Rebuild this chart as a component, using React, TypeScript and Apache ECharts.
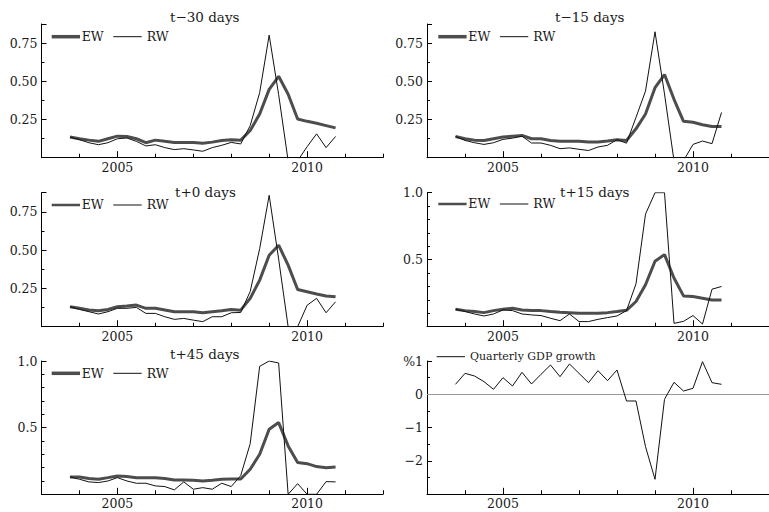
import React, { useEffect, useRef } from "react";
import * as echarts from "echarts";

// quarterly observation dates (decimal years)
const dates = [
  2003.75, 2004.0, 2004.25, 2004.5, 2004.75, 2005.0, 2005.25, 2005.5, 2005.75,
  2006.0, 2006.25, 2006.5, 2006.75, 2007.0, 2007.25, 2007.5, 2007.75, 2008.0,
  2008.25, 2008.5, 2008.75, 2009.0, 2009.25, 2009.5, 2009.75, 2010.0, 2010.25,
  2010.5, 2010.75,
];

const ewM30 = [0.135, 0.124, 0.115, 0.107, 0.124, 0.141, 0.139, 0.124, 0.098, 0.115, 0.107, 0.1, 0.1, 0.1, 0.094, 0.102, 0.113, 0.118, 0.115, 0.178, 0.286, 0.447, 0.533, 0.415, 0.253, 0.238, 0.225, 0.21, 0.195];
const rwM30 = [0.135, 0.118, 0.098, 0.085, 0.098, 0.124, 0.129, 0.107, 0.077, 0.085, 0.066, 0.053, 0.059, 0.051, 0.042, 0.066, 0.081, 0.1, 0.09, 0.21, 0.426, 0.802, 0.413, -0.02, -0.02, 0.072, 0.156, 0.066, 0.139];

const ewM15 = [0.139, 0.124, 0.115, 0.113, 0.124, 0.135, 0.141, 0.146, 0.124, 0.124, 0.113, 0.107, 0.107, 0.107, 0.102, 0.102, 0.109, 0.118, 0.113, 0.189, 0.286, 0.458, 0.544, 0.382, 0.238, 0.232, 0.216, 0.204, 0.204];
const rwM15 = [0.139, 0.113, 0.098, 0.087, 0.098, 0.12, 0.128, 0.141, 0.096, 0.096, 0.081, 0.059, 0.064, 0.055, 0.047, 0.07, 0.081, 0.118, 0.095, 0.264, 0.436, 0.824, 0.417, -0.02, -0.02, 0.087, 0.109, 0.092, 0.296];

const ewP0 = [0.13, 0.12, 0.109, 0.104, 0.113, 0.13, 0.135, 0.141, 0.12, 0.12, 0.109, 0.098, 0.098, 0.098, 0.091, 0.098, 0.104, 0.113, 0.108, 0.185, 0.304, 0.467, 0.532, 0.402, 0.243, 0.228, 0.213, 0.2, 0.195];
const rwP0 = [0.13, 0.113, 0.098, 0.083, 0.098, 0.12, 0.12, 0.126, 0.087, 0.087, 0.065, 0.048, 0.054, 0.043, 0.033, 0.065, 0.065, 0.091, 0.093, 0.23, 0.51, 0.858, 0.441, 0.0, 0.0, 0.14, 0.185, 0.091, 0.163];

const ewP15 = [0.13, 0.12, 0.113, 0.105, 0.12, 0.13, 0.138, 0.125, 0.12, 0.12, 0.113, 0.108, 0.105, 0.1, 0.1, 0.1, 0.105, 0.113, 0.122, 0.188, 0.313, 0.488, 0.538, 0.363, 0.23, 0.225, 0.213, 0.2, 0.2];
const rwP15 = [0.13, 0.113, 0.095, 0.08, 0.095, 0.125, 0.12, 0.095, 0.088, 0.083, 0.063, 0.045, 0.095, 0.038, 0.038, 0.055, 0.068, 0.08, 0.12, 0.32, 0.84, 1.0, 1.0, 0.025, 0.04, 0.083, 0.02, 0.28, 0.3];

const ewP45 = [0.13, 0.13, 0.118, 0.113, 0.125, 0.138, 0.133, 0.125, 0.125, 0.125, 0.118, 0.108, 0.108, 0.105, 0.1, 0.105, 0.113, 0.115, 0.115, 0.188, 0.3, 0.488, 0.538, 0.363, 0.238, 0.23, 0.208, 0.2, 0.205];
const rwP45 = [0.13, 0.113, 0.093, 0.088, 0.1, 0.125, 0.1, 0.083, 0.083, 0.063, 0.058, 0.033, 0.093, 0.038, 0.05, 0.038, 0.083, 0.058, 0.14, 0.38, 0.96, 1.0, 0.985, 0.0, 0.08, 0.0, 0.0, 0.095, 0.093];

const gdpGrowth = [0.3, 0.63, 0.55, 0.38, 0.15, 0.5, 0.25, 0.66, 0.31, 0.6, 0.88, 0.53, 0.91, 0.63, 0.35, 0.71, 0.41, 0.73, -0.2, -0.2, -1.57, -2.55, -0.15, 0.36, 0.1, 0.18, 0.98, 0.35, 0.3];

const xLabelYears = [2005, 2010];
const panelTitles = ["t−30 days", "t−15 days", "t+0 days", "t+15 days", "t+45 days"];
const ewSeries = [ewM30, ewM15, ewP0, ewP15, ewP45];
const rwSeries = [rwM30, rwM15, rwP0, rwP15, rwP45];
const seriesNames = ["EW", "RW"];
const gdpName = "Quarterly GDP growth";

const FAMILY = '"DejaVu Serif", "Liberation Serif", serif';
const TXT = "#1a1a1a";
const EW_COLOR = "#4d4d4d";
const RW_COLOR = "#111111";

// layout (pixels)
const COLS = [
  { left: 41.5, width: 341.5 },
  { left: 427, width: 343 },
];
const ROWS = [
  { top: 24, height: 133.7 },
  { top: 192.7, height: 134 },
  { top: 361, height: 133.3 },
];

const fmt25 = (v: number) => {
  const r = Math.round(v * 1000) / 1000;
  return r === 0.25 || r === 0.5 || r === 0.75 ? r.toFixed(2) : "";
};
const fmt5 = (v: number) => {
  const r = Math.round(v * 1000) / 1000;
  return r === 0.5 || r === 1 ? r.toFixed(1) : "";
};
const fmtGdp = (v: number) => {
  const r = Math.round(v);
  if (r === 1) return "%1";
  if (r === 0) return "0";
  if (r === -1 || r === -2) return "−" + Math.abs(r);
  return "";
};

const panelAxes = [
  { row: 0, col: 0, min: 0, max: 0.875, interval: 0.25, minor: 2, fmt: fmt25 },
  { row: 0, col: 1, min: 0, max: 0.875, interval: 0.25, minor: 2, fmt: fmt25 },
  { row: 1, col: 0, min: 0, max: 0.875, interval: 0.25, minor: 2, fmt: fmt25 },
  { row: 1, col: 1, min: 0, max: 1, interval: 0.5, minor: 5, fmt: fmt5 },
  { row: 2, col: 0, min: 0, max: 1, interval: 0.5, minor: 5, fmt: fmt5 },
  { row: 2, col: 1, min: -3, max: 1, interval: 1, minor: 2, fmt: fmtGdp },
];

// title / legend placement
const titlePos = [
  { x: 170, y: 9.5 },
  { x: 555, y: 9.5 },
  { x: 175, y: 184.5 },
  { x: 560, y: 185 },
  { x: 170, y: 347 },
];
const legendPos = [
  { x: 51.7, y: 36.7, ewW: 3.5 },
  { x: 438.3, y: 36.7, ewW: 3.5 },
  { x: 51.7, y: 205, ewW: 2.5 },
  { x: 438.3, y: 204, ewW: 2.5 },
  { x: 51.7, y: 373.3, ewW: 3.5 },
];

function buildOption() {
  const grid: any[] = [];
  const xAxis: any[] = [];
  const yAxis: any[] = [];
  const series: any[] = [];
  const graphic: any[] = [];

  panelAxes.forEach((p, g) => {
    const c = COLS[p.col];
    const r = ROWS[p.row];
    grid.push({ left: c.left, top: r.top, width: c.width, height: r.height, containLabel: false });
    xAxis.push({
      gridIndex: g,
      type: "value",
      min: 2003,
      max: 2012,
      interval: 1,
      axisLine: { show: true, onZero: false, lineStyle: { color: "#000", width: 1 } },
      axisTick: { show: true, inside: true, length: 4, lineStyle: { color: "#000", width: 1 } },
      axisLabel: { show: false },
      splitLine: { show: false },
    });
    xAxis.push({
      gridIndex: g,
      type: "value",
      position: "bottom",
      min: 2003,
      max: 2012,
      interval: 1,
      axisLine: { show: false, onZero: false },
      axisTick: { show: true, inside: true, length: 6.5, customValues: xLabelYears, lineStyle: { color: "#000", width: 1 } },
      axisLabel: {
        show: true,
        customValues: xLabelYears,
        formatter: (v: number) => String(v),
        margin: 3,
        color: TXT,
        fontFamily: FAMILY,
        fontSize: 12.5,
      },
      splitLine: { show: false },
    });
    yAxis.push({
      gridIndex: g,
      type: "value",
      min: p.min,
      max: p.max,
      interval: p.interval,
      axisLine: { show: true, onZero: false, lineStyle: { color: "#000", width: 1 } },
      axisTick: { show: true, inside: true, length: 5, lineStyle: { color: "#000", width: 1 } },
      minorTick: { show: true, splitNumber: p.minor, length: 3, lineStyle: { color: "#000", width: 1 } },
      splitLine: { show: false },
      minorSplitLine: { show: false },
      axisLabel: {
        formatter: p.fmt,
        margin: 4,
        color: TXT,
        fontFamily: FAMILY,
        fontSize: 12.5,
      },
    });
  });

  for (let k = 0; k < 5; k++) {
    series.push({
      name: seriesNames[0],
      type: "line",
      xAxisIndex: k * 2,
      yAxisIndex: k,
      data: dates.map((d, i) => [d, ewSeries[k][i]]),
      symbol: "none",
      clip: true,
      lineStyle: { color: EW_COLOR, width: 3 },
      itemStyle: { color: EW_COLOR },
      z: 2,
    });
    series.push({
      name: seriesNames[1],
      type: "line",
      xAxisIndex: k * 2,
      yAxisIndex: k,
      data: dates.map((d, i) => [d, rwSeries[k][i]]),
      symbol: "none",
      clip: true,
      lineStyle: { color: RW_COLOR, width: 1 },
      itemStyle: { color: RW_COLOR },
      z: 3,
    });

    const t = titlePos[k];
    graphic.push({
      type: "text",
      x: t.x,
      y: t.y,
      silent: true,
      z: 10,
      style: { text: panelTitles[k], font: `13.5px ${FAMILY}`, fill: TXT },
    });
    const l = legendPos[k];
    graphic.push({
      type: "line",
      silent: true,
      z: 10,
      shape: { x1: l.x, y1: l.y, x2: l.x + 28.3, y2: l.y },
      style: { stroke: EW_COLOR, lineWidth: l.ewW },
    });
    graphic.push({
      type: "text",
      x: l.x + 30,
      y: l.y - 6.7,
      silent: true,
      z: 10,
      style: { text: seriesNames[0], font: `12.5px ${FAMILY}`, fill: TXT },
    });
    graphic.push({
      type: "line",
      silent: true,
      z: 10,
      shape: { x1: l.x + 61.6, y1: l.y, x2: l.x + 90, y2: l.y },
      style: { stroke: RW_COLOR, lineWidth: 1 },
    });
    graphic.push({
      type: "text",
      x: l.x + 95,
      y: l.y - 6.7,
      silent: true,
      z: 10,
      style: { text: seriesNames[1], font: `12.5px ${FAMILY}`, fill: TXT },
    });
  }

  series.push({
    name: gdpName,
    type: "line",
    xAxisIndex: 10,
    yAxisIndex: 5,
    data: dates.map((d, i) => [d, gdpGrowth[i]]),
    symbol: "none",
    clip: true,
    lineStyle: { color: RW_COLOR, width: 1 },
    itemStyle: { color: RW_COLOR },
    z: 3,
    markLine: {
      silent: true,
      symbol: ["none", "none"],
      label: { show: false },
      lineStyle: { color: "#9a9a9a", width: 1, type: "solid" },
      data: [{ yAxis: 0 }],
      z: 1,
    },
  });
  graphic.push({
    type: "line",
    silent: true,
    z: 10,
    shape: { x1: 436.7, y1: 356.7, x2: 465, y2: 356.7 },
    style: { stroke: RW_COLOR, lineWidth: 1 },
  });
  graphic.push({
    type: "text",
    x: 470,
    y: 351,
    silent: true,
    z: 10,
    style: { text: gdpName, font: `11px ${FAMILY}`, fill: TXT },
  });

  return {
    animation: false,
    backgroundColor: "#ffffff",
    grid,
    xAxis,
    yAxis,
    series,
    graphic,
  };
}

export default function App() {
  const ref = useRef<HTMLDivElement>(null);
  useEffect(() => {
    if (!ref.current) return;
    const chart = echarts.init(ref.current, undefined, { renderer: "svg" });
    chart.setOption(buildOption() as any);
    return () => chart.dispose();
  }, []);
  return (
    <div
      ref={ref}
      style={{ position: "fixed", left: 0, top: 0, width: 769, height: 512, background: "#fff" }}
    />
  );
}
